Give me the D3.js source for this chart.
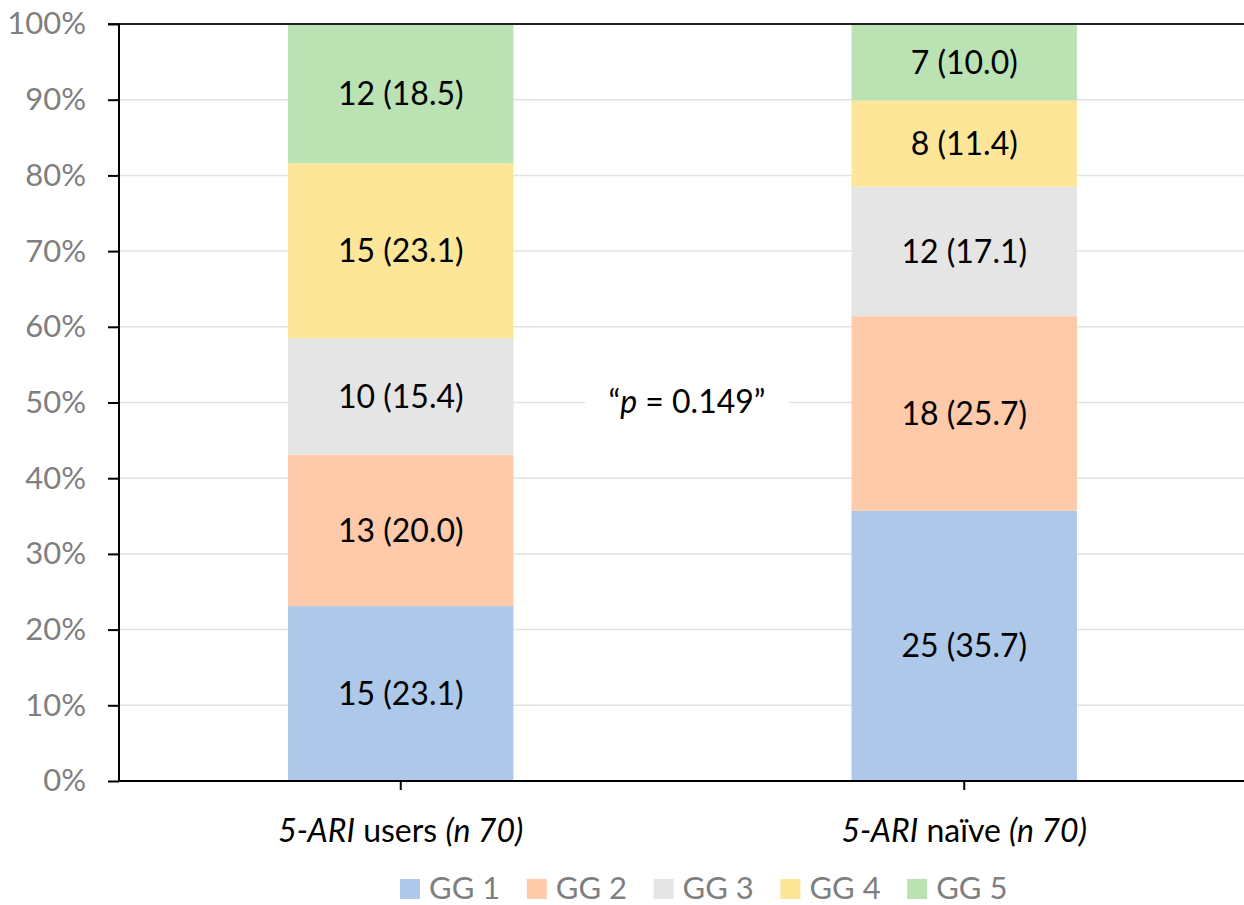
<!DOCTYPE html>
<html>
<head>
<meta charset="utf-8">
<script src="https://cdn.jsdelivr.net/npm/d3@7"></script>
<style>
  body { margin: 0; background: #fff; }
  svg text { font-family: Lato, "Noto Sans", sans-serif; }
</style>
</head>
<body>
<svg></svg>
<script>
// chart data
let groups = ["users", "naive"];
let series = ["GG 1", "GG 2", "GG 3", "GG 4", "GG 5"];
let counts = {
    users: [15, 13, 10, 15, 12],
    naive: [25, 18, 12, 8, 7]
};
let percents = {
    users: [23.1, 20.0, 15.4, 23.1, 18.5],
    naive: [35.7, 25.7, 17.1, 11.4, 10.0]
};
let colors = ["#aec8e9", "#fecaa9", "#e5e5e5", "#fee698", "#bae2b3"];
let yTicks = [0, 10, 20, 30, 40, 50, 60, 70, 80, 90, 100];

let canvasWidth = 1244;
let canvasHeight = 905;
let margin = { left: 119, top: 24, right: -2, bottom: 124 };
let w = canvasWidth - margin.left - margin.right;
let h = canvasHeight - margin.top - margin.bottom;

let svg = d3.select("svg").attr("width", canvasWidth).attr("height", canvasHeight);
let g = svg.append("g").attr("transform", `translate(${margin.left},${margin.top})`);

let x = d3.scaleBand().domain(groups).range([0, w]).paddingInner(0.6).paddingOuter(0.3);
let y = d3.scaleLinear().domain([0, 100]).range([h, 0]);

// gridlines
g.append("g").selectAll("line").data(yTicks.filter(d => d > 0 && d < 100)).join("line")
    .attr("x1", 0).attr("x2", w)
    .attr("y1", d => y(d)).attr("y2", d => y(d))
    .attr("stroke", "#e2e2e2").attr("stroke-width", 1.5);

// stacked bars
groups.forEach(function (grp) {
    let base = 0;
    percents[grp].forEach(function (p, i) {
        let y0 = base, y1 = base + p;
        base = y1;
        g.append("rect")
            .attr("x", x(grp)).attr("width", x.bandwidth())
            .attr("y", y(y1)).attr("height", y(y0) - y(y1))
            .attr("fill", colors[i]);
        g.append("text")
            .attr("x", x(grp) + x.bandwidth() / 2)
            .attr("y", (y(y0) + y(y1)) / 2)
            .attr("dy", "0.36em")
            .attr("text-anchor", "middle")
            .attr("font-size", 32)
            .attr("fill", "#000")
            .text(counts[grp][i] + " (" + p.toFixed(1) + ")");
    });
});

// top border
g.append("line").attr("x1", -11).attr("x2", w).attr("y1", 0).attr("y2", 0)
    .attr("stroke", "#222").attr("stroke-width", 2);

// y axis
let yAxis = g.append("g")
    .call(d3.axisLeft(y).tickValues(yTicks).tickFormat(d => d + "%").tickSize(11).tickPadding(22));
yAxis.select(".domain").attr("stroke", "#000").attr("stroke-width", 2).attr("d", `M0,0V${h}`);
yAxis.selectAll(".tick line").attr("stroke", "#000").attr("stroke-width", 2);
yAxis.selectAll(".tick text").attr("font-size", 31).attr("fill", "#7f7f7f")
    .attr("font-family", "Lato, sans-serif");

// x axis
let xAxis = g.append("g").attr("transform", `translate(0,${h})`)
    .call(d3.axisBottom(x).tickSize(9).tickFormat(""));
xAxis.select(".domain").attr("stroke", "#000").attr("stroke-width", 2).attr("d", `M0,0H${w}`);
xAxis.selectAll(".tick line").attr("stroke", "#000").attr("stroke-width", 2);

let xLabels = {
    users: [["5-ARI", true], [" users ", false], ["(n 70)", true]],
    naive: [["5-ARI", true], [" naïve ", false], ["(n 70)", true]]
};
groups.forEach(function (grp) {
    let t = g.append("text")
        .attr("x", x(grp) + x.bandwidth() / 2)
        .attr("y", h + 61)
        .attr("text-anchor", "middle")
        .attr("font-size", 32)
        .attr("fill", "#000");
    xLabels[grp].forEach(function (part) {
        t.append("tspan").attr("font-style", part[1] ? "italic" : "normal").text(part[0]);
    });
});

// p value annotation
let pg = g.append("g").attr("transform", `translate(${687 - margin.left},${402 - margin.top})`);
pg.append("rect").attr("x", -102).attr("y", -22).attr("width", 204).attr("height", 44).attr("fill", "#fff");
let pt = pg.append("text").attr("text-anchor", "middle").attr("dy", "0.35em")
    .attr("font-size", 32).attr("fill", "#000");
pt.append("tspan").text("\u201C");
pt.append("tspan").attr("font-style", "italic").text("p");
pt.append("tspan").text(" = 0.149\u201D");

// legend
let legend = svg.append("g").attr("transform", "translate(400,879)");
series.forEach(function (s, i) {
    let item = legend.append("g").attr("transform", `translate(${i * 126.8},0)`);
    item.append("rect").attr("width", 20).attr("height", 20).attr("fill", colors[i]);
    item.append("text").attr("x", 29).attr("y", 20).attr("font-size", 31)
        .attr("fill", "#7f7f7f").text(s);
});
</script>
</body>
</html>
